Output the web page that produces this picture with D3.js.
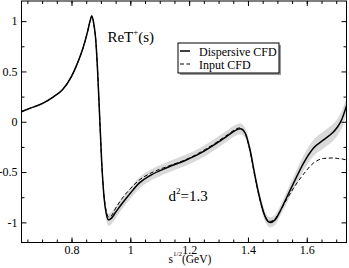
<!DOCTYPE html>
<html>
<head>
<meta charset="utf-8">
<script src="https://cdn.jsdelivr.net/npm/d3@7/dist/d3.min.js"></script>
<style>
body { margin: 0; background: #fff; }
svg { display: block; }
svg text { font-family: "Liberation Serif", "Times New Roman", serif; fill: #000; }
.axis path { display: none; }
.axis line { stroke: #000; stroke-width: 1; }
.axis text { font-size: 12px; }
</style>
</head>
<body>
<svg id="chart" width="349" height="268"></svg>
<script>
// values
var sqrtS = [0.63, 0.66, 0.70, 0.74, 0.77, 0.80, 0.82, 0.84, 0.855, 0.863, 0.869, 0.876, 0.882, 0.888,
    0.895, 0.903, 0.911, 0.918, 0.926, 0.935, 0.95, 0.97, 1.0, 1.03, 1.07, 1.13, 1.19, 1.24, 1.29,
    1.33, 1.355, 1.373, 1.39, 1.407, 1.424, 1.441, 1.458, 1.475, 1.492, 1.509, 1.532, 1.555, 1.589,
    1.623, 1.657, 1.691, 1.705, 1.72, 1.735];
var dispersive = [0.10, 0.135, 0.18, 0.25, 0.32, 0.45, 0.58, 0.74, 0.90, 1.00, 1.05, 0.97, 0.83, 0.55,
    0.10, -0.42, -0.76, -0.91, -0.975, -0.96, -0.90, -0.82, -0.71, -0.61, -0.53, -0.45, -0.38, -0.31, -0.22,
    -0.14, -0.09, -0.07, -0.11, -0.28, -0.54, -0.77, -0.94, -1.0, -0.975, -0.89, -0.75, -0.61, -0.41,
    -0.26, -0.18, -0.10, -0.05, 0.03, 0.16];
var inputCFD = [0.10, 0.135, 0.18, 0.25, 0.32, 0.45, 0.58, 0.74, 0.90, 1.00, 1.05, 0.97, 0.83, 0.55,
    0.10, -0.42, -0.75, -0.89, -0.945, -0.935, -0.86, -0.77, -0.665, -0.58, -0.51, -0.44, -0.375, -0.30, -0.21,
    -0.13, -0.08, -0.06, -0.11, -0.29, -0.55, -0.78, -0.94, -0.99, -0.965, -0.89, -0.77, -0.66, -0.52,
    -0.41, -0.365, -0.36, -0.365, -0.37, -0.38];
var bandHalf = [0.01, 0.01, 0.01, 0.01, 0.01, 0.015, 0.015, 0.02, 0.02, 0.02, 0.02, 0.03, 0.03, 0.04,
    0.04, 0.05, 0.05, 0.06, 0.06, 0.06, 0.06, 0.055, 0.055, 0.055, 0.055, 0.055, 0.055, 0.055, 0.055,
    0.055, 0.055, 0.055, 0.05, 0.05, 0.05, 0.05, 0.05, 0.05, 0.05, 0.05, 0.06, 0.065, 0.075,
    0.08, 0.085, 0.085, 0.085, 0.085, 0.085];

var xTicks = [0.8, 1, 1.2, 1.4, 1.6];
var xTickLabels = ['0.8', '1', '1.2', '1.4', '1.6'];
var xMinor = d3.range(0.65, 1.72, 0.05);
var yTicks = [-1, -0.5, 0, 0.5, 1];
var yTickLabels = ['-1', '-0.5', '0', '0.5', '1'];
var yMinor = [-0.75, -0.25, 0.25, 0.75];

var margin = {top: 1, right: 2.5, bottom: 25.5, left: 21.5};
var W = 349, H = 268;
var w = W - margin.left - margin.right;
var h = H - margin.top - margin.bottom;

var svg = d3.select('#chart');
var g = svg.append('g').attr('transform', 'translate(' + margin.left + ',' + margin.top + ')');

var x = d3.scaleLinear().domain([0.63, 1.735]).range([0, w]);
var y = d3.scaleLinear().domain([-1.2, 1.2]).range([h, 0]);

var pts = sqrtS.map(function(s, i) {
    return {s: s, d: dispersive[i], inp: inputCFD[i], e: bandHalf[i]};
});

svg.append('defs').append('clipPath').attr('id', 'plotclip')
    .append('rect').attr('width', w).attr('height', h);

var plot = g.append('g').attr('clip-path', 'url(#plotclip)');

var curve = d3.curveMonotoneX;

plot.append('path')
    .datum(pts)
    .attr('fill', '#d9d9d9')
    .attr('d', d3.area().curve(curve)
        .x(function(p) { return x(p.s); })
        .y0(function(p) { return y(p.d - p.e); })
        .y1(function(p) { return y(p.d + p.e); }));

plot.append('path')
    .datum(pts)
    .attr('fill', 'none')
    .attr('stroke', '#000')
    .attr('stroke-width', 1.5)
    .attr('d', d3.line().curve(curve)
        .x(function(p) { return x(p.s); })
        .y(function(p) { return y(p.d); }));

plot.append('path')
    .datum(pts)
    .attr('fill', 'none')
    .attr('stroke', '#000')
    .attr('stroke-width', 1)
    .attr('stroke-dasharray', '4,2.5')
    .attr('d', d3.line().curve(curve)
        .x(function(p) { return x(p.s); })
        .y(function(p) { return y(p.inp); }));

// axes, ticks pointing inward on all sides
function fmt(vals, labels) {
    return function(v) { return labels[vals.indexOf(v)]; };
}

function styleAxis(sel) {
    sel.attr('font-family', null).attr('font-size', null);
}

g.append('g').attr('class', 'axis').attr('transform', 'translate(0,' + h + ')')
    .call(d3.axisBottom(x).tickValues(xTicks).tickSize(-5).tickPadding(2.5)
        .tickFormat(fmt(xTicks, xTickLabels)))
    .call(styleAxis);
g.append('g').attr('class', 'axis').attr('transform', 'translate(0,' + h + ')')
    .call(d3.axisBottom(x).tickValues(xMinor).tickSize(-3).tickFormat(''));
g.append('g').attr('class', 'axis')
    .call(d3.axisTop(x).tickValues(xTicks).tickSize(-5).tickFormat(''));
g.append('g').attr('class', 'axis')
    .call(d3.axisTop(x).tickValues(xMinor).tickSize(-3).tickFormat(''));

g.append('g').attr('class', 'axis')
    .call(d3.axisLeft(y).tickValues(yTicks).tickSize(-5).tickPadding(4)
        .tickFormat(fmt(yTicks, yTickLabels)))
    .call(styleAxis);
g.append('g').attr('class', 'axis')
    .call(d3.axisLeft(y).tickValues(yMinor).tickSize(-3).tickFormat(''));
g.append('g').attr('class', 'axis').attr('transform', 'translate(' + w + ',0)')
    .call(d3.axisRight(y).tickValues(yTicks).tickSize(-5).tickFormat(''));
g.append('g').attr('class', 'axis').attr('transform', 'translate(' + w + ',0)')
    .call(d3.axisRight(y).tickValues(yMinor).tickSize(-3).tickFormat(''));

g.append('rect')
    .attr('width', w).attr('height', h)
    .attr('fill', 'none').attr('stroke', '#000').attr('stroke-width', 1);

// annotations
var t1 = g.append('text').attr('x', x(0.922)).attr('y', y(0.79)).attr('font-size', 15);
t1.append('tspan').text('ReT');
t1.append('tspan').attr('font-size', 9).attr('dy', -7).text('+');
t1.append('tspan').attr('dy', 7).text('(s)');

var t2 = g.append('text').attr('x', x(1.13)).attr('y', y(-0.79)).attr('font-size', 15);
t2.append('tspan').text('d');
t2.append('tspan').attr('font-size', 9).attr('dy', -7).text('2');
t2.append('tspan').attr('dy', 7).text('=1.3');

var t3 = g.append('text').attr('x', x(1.13)).attr('y', h + 20.5).attr('font-size', 11.5);
t3.append('tspan').text('s');
t3.append('tspan').attr('font-size', 7).attr('dy', -7).text('1/2');
t3.append('tspan').attr('dy', 7).text('(GeV)');

// legend
var legend = g.append('g').attr('transform', 'translate(' + (178 - margin.left) + ',' + (43 - margin.top) + ')');
legend.append('rect').attr('x', 2).attr('y', 2).attr('width', 101).attr('height', 30).attr('fill', '#999');
legend.append('rect').attr('width', 101).attr('height', 30)
    .attr('fill', '#fff').attr('stroke', '#000').attr('stroke-width', 1);

var entries = [
    {label: 'Dispersive CFD', dash: null, width: 1.5},
    {label: 'Input CFD', dash: '4,2.5', width: 1}
];
entries.forEach(function(en, i) {
    var ly = 8 + i * 13;
    legend.append('line')
        .attr('x1', 2).attr('x2', 12).attr('y1', ly).attr('y2', ly)
        .attr('stroke', '#000').attr('stroke-width', en.width)
        .attr('stroke-dasharray', en.dash);
    legend.append('text').attr('x', 21).attr('y', ly + 4.5)
        .attr('font-size', 12).text(en.label);
});
</script>
</body>
</html>
